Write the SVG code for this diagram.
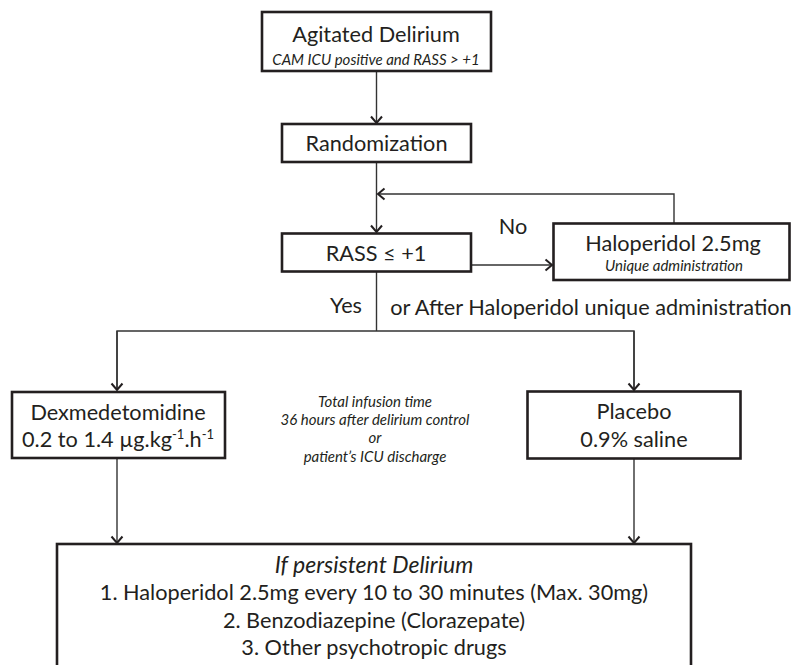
<svg xmlns="http://www.w3.org/2000/svg" width="792" height="665" viewBox="0 0 792 665">
<style>
.box{fill:#fff;stroke:#231f20;stroke-width:2.6}
.ln{fill:none;stroke:#333;stroke-width:1.4}
text{font-family:Lato,"Open Sans","Liberation Sans",sans-serif;fill:#231f20;text-anchor:middle}
.big{font-size:21.7px}
.it{font-style:italic;font-size:15px}
.its{font-style:italic;font-size:15px}
.itb{font-style:italic;font-size:23px}
</style>
<defs>
<marker id="ar" markerUnits="userSpaceOnUse" markerWidth="14" markerHeight="14" refX="8" refY="7" orient="auto">
<path d="M1.5,1.5 L8,7 L1.5,12.5" fill="none" stroke="#231f20" stroke-width="2"/>
</marker>
</defs>
<rect width="792" height="665" fill="#fff"/>
<g id="connectors">
<line class="ln" x1="376.5" y1="71" x2="376.5" y2="123" marker-end="url(#ar)"/>
<line class="ln" x1="376.5" y1="162" x2="376.5" y2="232" marker-end="url(#ar)"/>
<path class="ln" d="M674,223 V194 H378" marker-end="url(#ar)"/>
<line class="ln" x1="471" y1="265" x2="552" y2="265" marker-end="url(#ar)"/>
<path class="ln" d="M376.5,272 V331"/>
<path class="ln" d="M634,390 V331 H117 V390"/>
<line class="ln" x1="117" y1="331" x2="117" y2="390" marker-end="url(#ar)"/>
<line class="ln" x1="634" y1="331" x2="634" y2="390" marker-end="url(#ar)"/>
<line class="ln" x1="117" y1="458" x2="117" y2="543" marker-end="url(#ar)"/>
<line class="ln" x1="634" y1="458" x2="634" y2="543" marker-end="url(#ar)"/>
</g>
<g id="agitated">
<rect class="box" x="262" y="12" width="229" height="59"/>
<text class="big" x="376" y="42">Agitated Delirium</text>
<text class="it" x="376" y="65">CAM ICU positive and RASS &gt; +1</text>
</g>
<g id="randomization">
<rect class="box" x="282" y="124" width="189" height="38"/>
<text class="big" x="376.5" y="151">Randomization</text>
</g>
<g id="rass">
<rect class="box" x="282" y="233.5" width="189" height="38"/>
<text class="big" x="376" y="261">RASS ≤ +1</text>
</g>
<g id="haloperidol">
<rect class="box" x="553.5" y="223.5" width="236" height="56.5"/>
<text class="big" x="673" y="251">Haloperidol 2.5mg</text>
<text class="its" x="674" y="271">Unique administration</text>
</g>
<g id="labels">
<text class="big" x="513" y="234">No</text>
<text class="big" x="346" y="313">Yes</text>
<text class="big" x="591" y="315">or After Haloperidol unique administration</text>
</g>
<g id="dexmedetomidine">
<rect class="box" x="12" y="392" width="213" height="66"/>
<text class="big" x="118" y="420">Dexmedetomidine</text>
<text class="big" x="118" y="447">0.2 to 1.4 µg.kg<tspan font-size="13" dy="-8">-1</tspan><tspan dy="8">.h</tspan><tspan font-size="13" dy="-8">-1</tspan></text>
</g>
<g id="note">
<text class="it" x="375" y="407">Total infusion time</text>
<text class="it" x="375" y="425">36 hours after delirium control</text>
<text class="it" x="375" y="443">or</text>
<text class="it" x="375" y="462">patient’s ICU discharge</text>
</g>
<g id="placebo">
<rect class="box" x="527.5" y="391.5" width="213" height="67"/>
<text class="big" x="634" y="419">Placebo</text>
<text class="big" x="634" y="447">0.9% saline</text>
</g>
<g id="persistent">
<rect class="box" x="57" y="544" width="634" height="135"/>
<text class="itb" x="374" y="573">If persistent Delirium</text>
<text class="big" x="374" y="600">1. Haloperidol 2.5mg every 10 to 30 minutes (Max. 30mg)</text>
<text class="big" x="374" y="628">2. Benzodiazepine (Clorazepate)</text>
<text class="big" x="374" y="655">3. Other psychotropic drugs</text>
</g>
</svg>
